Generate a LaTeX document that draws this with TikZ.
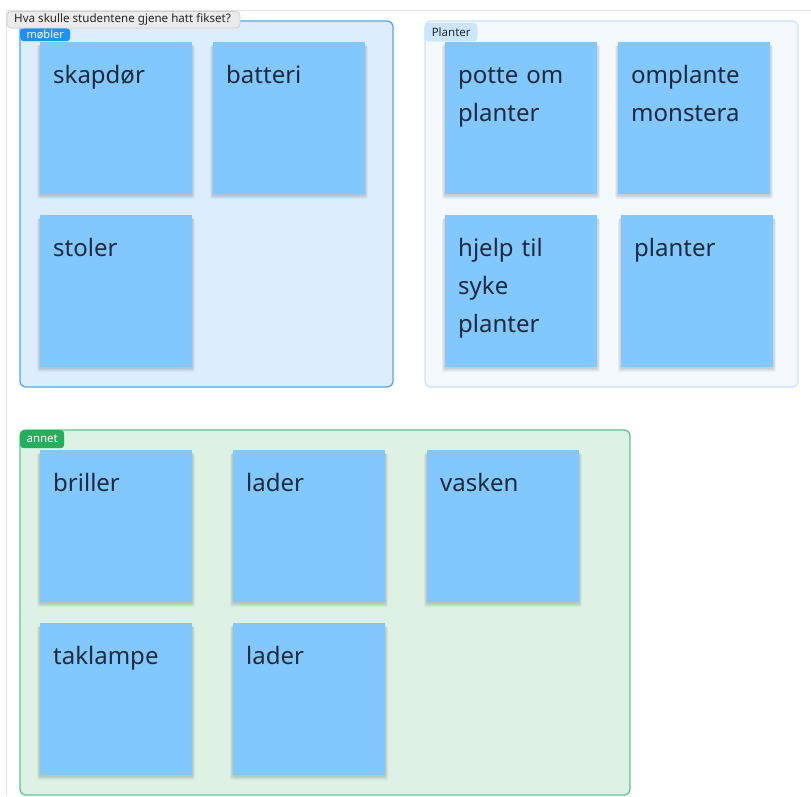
\documentclass[tikz,border=0pt]{standalone}
\usepackage{fontspec}
\setmainfont{Noto Sans}

\definecolor{sticky}{HTML}{80C8FF}
\definecolor{inktext}{HTML}{1F2A37}
\definecolor{frameline}{HTML}{E3E3E3}
\definecolor{blueFill}{HTML}{DCEEFC}
\definecolor{blueEdge}{HTML}{4EA8F2}
\definecolor{blueTag}{HTML}{1E90FF}
\definecolor{paleFill}{HTML}{F4F9FE}
\definecolor{paleEdge}{HTML}{C8E3FA}
\definecolor{paleTag}{HTML}{CDE6FB}
\definecolor{greenFill}{HTML}{DDF2E4}
\definecolor{greenEdge}{HTML}{5EC68C}
\definecolor{greenTag}{HTML}{22B05A}
\definecolor{titleFill}{HTML}{EBEBEB}
\definecolor{titleEdge}{HTML}{CFCFCF}

\tikzset{
  group/.style={rounded corners=6pt, line width=1.3pt},
  tagbox/.style={rounded corners=3.5pt, inner sep=0pt, anchor=north west,
    font=\fontsize{11.5}{13}\selectfont},
  note/.style={fill=sticky, draw=none, minimum width=152pt, minimum height=152pt,
    inner sep=0pt, anchor=north west},
  shadowlayer/.style={fill=black, fill opacity=0.035, rounded corners=2pt},
  notetext/.style={anchor=base west, inner sep=0pt, text width=135pt, align=left,
    text=inktext, font=\fontsize{24}{38.3}\selectfont},
}

% a sticky note with a soft shadow under it and its text at the top left
\newcommand{\sticky}[4]{%
  \foreach \k in {1,...,5}{%
    \fill[shadowlayer] (#2-\k*0.6,#3+2+\k*0.3) rectangle (#2+152+\k*0.6,#3+153+\k*0.8);
  }
  \node[note] (#1) at (#2,#3) {};
  \node[notetext] (#1t) at ([shift={(13,41)}]#1.north west) {#4};
}

\begin{document}
\begin{tikzpicture}[x=1pt,y=-1pt]
  \useasboundingbox (0,0) rectangle (811,796);
  \fill[white] (0,0) rectangle (811,796);

  % board frame
  \coordinate (fa) at (811,10);
  \coordinate (fb) at (6,10);
  \coordinate (fc) at (6,796);
  \draw[frameline, line width=1pt] (fa) -- (fb) -- (fc);

  % group areas
  \draw[group, fill=blueFill, draw=blueEdge] (20,21) rectangle (393,387);
  \draw[group, fill=paleFill, draw=paleEdge] (425,21) rectangle (798,387);
  \draw[group, fill=greenFill, draw=greenEdge] (20,430) rectangle (630,795);

  % group labels
  \node[tagbox, fill=blueTag, text=white, minimum width=50pt, minimum height=13pt,
        font=\fontsize{11}{12}\selectfont] (tagm) at (20,28) {møbler};
  \node[tagbox, fill=paleTag, draw=paleEdge, text=inktext, minimum width=52pt, minimum height=18pt] (tagp) at (425,23) {Planter};
  \node[tagbox, fill=greenTag, text=white, minimum width=44pt, minimum height=18pt] (taga) at (20,430) {annet};

  % notes: møbler
  \sticky{m1}{40}{42}{skapdør}
  \sticky{m2}{213}{42}{batteri}
  \sticky{m3}{40}{215}{stoler}

  % notes: Planter
  \sticky{p1}{445}{42}{potte om\\planter}
  \sticky{p2}{618}{42}{omplante\\monstera}
  \sticky{p3}{445}{215}{hjelp til\\syke\\planter}
  \sticky{p4}{621}{215}{planter}

  % notes: annet
  \sticky{a1}{40}{450}{briller}
  \sticky{a2}{233}{450}{lader}
  \sticky{a3}{427}{450}{vasken}
  \sticky{a4}{40}{623}{taklampe}
  \sticky{a5}{233}{623}{lader}

  % board title
  \draw[fill=titleFill, draw=titleEdge, rounded corners=4pt, line width=0.8pt] (7,11.5) rectangle (240,28);
  \node[anchor=west, inner sep=0pt, text=black!85, font=\fontsize{11.6}{13}\selectfont]
        (title) at (14,19.8) {Hva skulle studentene gjene hatt fikset?};
\end{tikzpicture}
\end{document}
